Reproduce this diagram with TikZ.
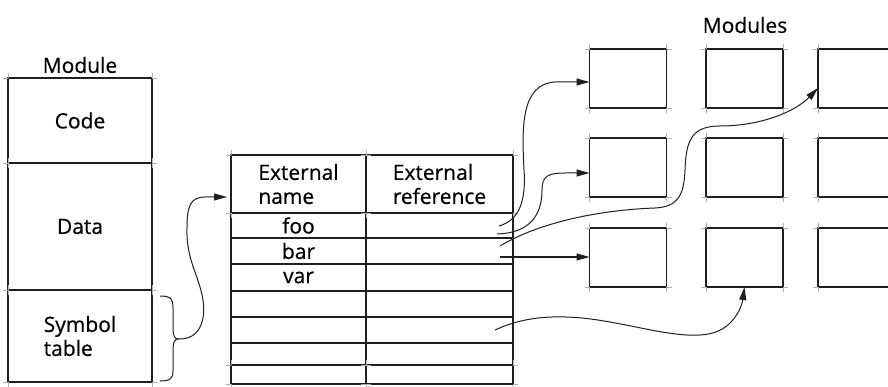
\documentclass[tikz,border=0pt]{standalone}
\usepackage{fontspec}
\setmainfont{Open Sans}[FakeBold=0.5]
\usetikzlibrary{arrows.meta}
\definecolor{ink}{gray}{0.12}
\newcommand\boxticks[1]{%
 \draw[tick] ([xshift=-5pt]#1.north west) -- (#1.north west) ([yshift=5pt]#1.north west) -- (#1.north west)
 ([xshift=5pt]#1.north east) -- (#1.north east) ([yshift=5pt]#1.north east) -- (#1.north east)
 ([xshift=-5pt]#1.south west) -- (#1.south west) ([yshift=-5pt]#1.south west) -- (#1.south west)
 ([xshift=5pt]#1.south east) -- (#1.south east) ([yshift=-5pt]#1.south east) -- (#1.south east);}
\begin{document}
\begin{tikzpicture}[x=1pt,y=-1pt,
  txt/.style={font=\fontsize{21}{24}\selectfont, align=left},
  cell/.style={draw=ink, line width=1.1pt, outer sep=0pt, inner sep=0pt, txt},
  mbox/.style={draw=ink, line width=1.1pt, outer sep=0pt, inner sep=0pt, minimum width=77, minimum height=59},
  lbl/.style={inner sep=0pt, txt},
  tick/.style={draw=black!30, line width=0.8pt},
  conn/.style={draw=ink, line width=1pt, -{Triangle[length=13pt,width=7pt]}},
  bracestyle/.style={draw=ink, line width=1pt}]
\useasboundingbox (0,0) rectangle (888,387);
\clip (0,0) rectangle (888,387);

% single module
\node[lbl] (modlbl) at (80,65) {Module};
\node[cell, minimum width=144, minimum height=85] (code) at (80,120.5) {Code};
\node[cell, minimum width=144, minimum height=127] (data) at (80,226.5) {Data};
\node[cell, minimum width=144, minimum height=92] (sym) at (80,336) {Symbol\\table};
\boxticks{code}\boxticks{data}\boxticks{sym}

% brace
\coordinate (bt) at (178,339);
\draw[bracestyle] (160,296) .. controls (171,296) and (173,299) .. (173,308) -- (173,329)
  .. controls (173,336) and (175,339) .. (bt)
  .. controls (175,339) and (173,342) .. (173,349) -- (173,371)
  .. controls (173,378) and (171,381) .. (160,381);

% table
\node[cell, minimum width=135, minimum height=58] (ha) at (298.5,184) {External\\name};
\node[cell, minimum width=147, minimum height=58] (hb) at (439.5,184) {External\\reference};
\node[cell, minimum width=135, minimum height=25] (r1a) at (298.5,225.5) {foo};
\node[cell, minimum width=147, minimum height=25] (r1b) at (439.5,225.5) {};
\node[cell, minimum width=135, minimum height=26] (r2a) at (298.5,251) {bar};
\node[cell, minimum width=147, minimum height=26] (r2b) at (439.5,251) {};
\node[cell, minimum width=135, minimum height=27] (r3a) at (298.5,277.5) {var};
\node[cell, minimum width=147, minimum height=27] (r3b) at (439.5,277.5) {};
\node[cell, minimum width=135, minimum height=26] (r4a) at (298.5,304) {};
\node[cell, minimum width=147, minimum height=26] (r4b) at (439.5,304) {};
\node[cell, minimum width=135, minimum height=26] (r5a) at (298.5,330) {};
\node[cell, minimum width=147, minimum height=26] (r5b) at (439.5,330) {};
\node[cell, minimum width=135, minimum height=22] (r6a) at (298.5,354) {};
\node[cell, minimum width=147, minimum height=22] (r6b) at (439.5,354) {};
\node[cell, minimum width=135, minimum height=19] (r7a) at (298.5,374.5) {};
\node[cell, minimum width=147, minimum height=19] (r7b) at (439.5,374.5) {};
\boxticks{ha}\boxticks{hb}\boxticks{r7a}\boxticks{r7b}

% modules grid
\node[lbl] (modslbl) at (745,25) {Modules};
\foreach \r/\y in {1/78.5,2/167.5,3/257.5}
  \foreach \c/\x in {1/628,2/744.5,3/856.5}
    {\node[mbox] (m\r\c) at (\x,\y) {};
     \boxticks{m\r\c}}

% connectors
\draw[conn] (bt) .. controls (200,340) and (206,320) .. (203,300)
  .. controls (199,275) and (186,260) .. (187,228)
  .. controls (187,207) and (190,197) .. (205,197) -- ([xshift=-4pt,yshift=-13pt]ha.west);

\coordinate (sA) at (499,226);
\coordinate (sB) at (497,234);
\coordinate (sC) at (500,246);
\coordinate (sD) at (500,257);
\coordinate (sE) at (495,330);

\draw[conn] (sA) .. controls (520,220) and (526,200) .. (524,170)
  .. controls (522,130) and (520,84) .. (555,82) -- ([yshift=-3.5pt]m11.west);
\draw[conn] (sB) .. controls (530,233) and (542,215) .. (542,190)
  .. controls (542,176) and (548,173) .. (565,173) -- ([yshift=-5.5pt]m21.west);
\draw[conn] (sC) .. controls (540,222) and (600,210) .. (655,208)
  .. controls (678,207) and (684,195) .. (685,170)
  .. controls (686,140) and (692,126) .. (720,126)
  .. controls (760,126) and (795,112) .. ([yshift=-9.5pt]m13.west);
\draw[conn] (sD) -- (sD -| m31.west);
\draw[conn] (sE) .. controls (525,316) and (560,313) .. (610,322)
  .. controls (660,331) and (705,345) .. (728,325)
  .. controls (738,316) and (742,305) .. (m32.south);
\end{tikzpicture}
\end{document}
